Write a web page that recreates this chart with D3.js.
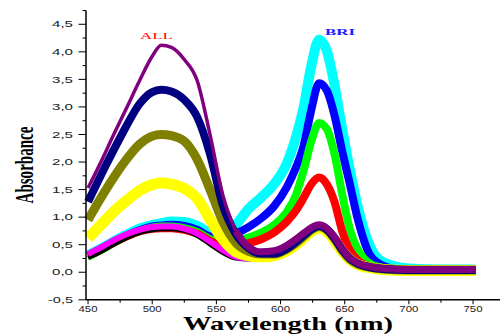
<!DOCTYPE html>
<html>
<head>
<meta charset="utf-8">
<script src="https://cdn.jsdelivr.net/npm/d3@7"></script>
<style>
  body { margin: 0; background: #fff; }
  svg { display: block; }
  .tick-label { font-family: "Liberation Sans", Arial, sans-serif; font-size: 9px; fill: #222; }
</style>
</head>
<body>
<div id="chart"></div>
<script>
// wavelength grid (nm) shared by every spectrum
const wavelength = [450, 460, 470, 480, 490, 500, 507, 515, 525, 535, 545, 555, 565, 575, 585, 595, 605, 612, 618, 624, 630, 636, 642, 648, 654, 660, 670, 680, 700, 725, 752]

// absorbance, one array per spectrum
const absCyan    = [0.31, 0.43, 0.56, 0.68, 0.79, 0.86, 0.89, 0.92, 0.91, 0.84, 0.72, 0.70, 0.86, 1.15, 1.36, 1.60, 1.98, 2.45, 3.00, 3.75, 4.22, 4.02, 3.40, 2.60, 1.85, 1.20, 0.45, 0.18, 0.07, 0.05, 0.05]
const absBlue    = [0.29, 0.41, 0.54, 0.66, 0.76, 0.83, 0.85, 0.86, 0.84, 0.77, 0.65, 0.62, 0.70, 0.82, 0.98, 1.20, 1.55, 1.90, 2.30, 2.95, 3.43, 3.30, 2.85, 2.20, 1.60, 0.98, 0.30, 0.12, 0.03, 0.02, 0.02]
const absGreen   = [0.28, 0.40, 0.53, 0.65, 0.75, 0.81, 0.83, 0.83, 0.80, 0.73, 0.60, 0.55, 0.58, 0.63, 0.72, 0.86, 1.10, 1.40, 1.85, 2.38, 2.71, 2.60, 2.15, 1.42, 0.78, 0.42, 0.15, 0.08, 0.04, 0.03, 0.03]
const absRed     = [0.30, 0.41, 0.54, 0.65, 0.74, 0.79, 0.80, 0.80, 0.77, 0.70, 0.57, 0.48, 0.48, 0.53, 0.60, 0.72, 0.92, 1.12, 1.35, 1.60, 1.72, 1.60, 1.28, 0.75, 0.40, 0.22, 0.10, 0.06, 0.04, 0.04, 0.04]
const absBlack   = [0.26, 0.37, 0.50, 0.62, 0.71, 0.76, 0.78, 0.78, 0.75, 0.66, 0.50, 0.35, 0.25, 0.23, 0.25, 0.30, 0.39, 0.50, 0.62, 0.74, 0.80, 0.74, 0.58, 0.37, 0.22, 0.13, 0.07, 0.04, 0.02, 0.02, 0.02]
const absMagenta = [0.33, 0.45, 0.58, 0.69, 0.77, 0.82, 0.83, 0.83, 0.79, 0.70, 0.56, 0.40, 0.28, 0.25, 0.27, 0.32, 0.41, 0.52, 0.64, 0.76, 0.82, 0.76, 0.60, 0.39, 0.23, 0.14, 0.08, 0.05, 0.04, 0.04, 0.04]
const absYellow  = [0.62, 0.86, 1.10, 1.30, 1.48, 1.59, 1.62, 1.60, 1.52, 1.34, 0.96, 0.60, 0.37, 0.30, 0.28, 0.30, 0.39, 0.50, 0.62, 0.74, 0.80, 0.74, 0.58, 0.38, 0.23, 0.14, 0.08, 0.05, 0.03, 0.03, 0.03]
const absOlive   = [0.95, 1.35, 1.72, 2.05, 2.32, 2.47, 2.50, 2.48, 2.38, 2.05, 1.50, 0.92, 0.54, 0.38, 0.33, 0.33, 0.42, 0.53, 0.65, 0.77, 0.83, 0.77, 0.61, 0.40, 0.24, 0.15, 0.09, 0.06, 0.04, 0.04, 0.04]
const absNavy    = [1.28, 1.76, 2.22, 2.66, 3.05, 3.27, 3.31, 3.28, 3.13, 2.82, 2.15, 1.22, 0.70, 0.44, 0.34, 0.34, 0.43, 0.55, 0.67, 0.78, 0.84, 0.78, 0.62, 0.41, 0.25, 0.16, 0.09, 0.06, 0.04, 0.04, 0.04]
const absPurple  = [1.53, 2.00, 2.50, 2.98, 3.47, 3.92, 4.12, 4.08, 3.86, 3.48, 2.50, 1.40, 0.75, 0.46, 0.37, 0.39, 0.49, 0.60, 0.71, 0.81, 0.86, 0.80, 0.64, 0.43, 0.26, 0.17, 0.10, 0.07, 0.05, 0.05, 0.05]

const xTicks = [450, 500, 550, 600, 650, 700, 750]
const yTicks = [-0.5, 0, 0.5, 1, 1.5, 2, 2.5, 3, 3.5, 4, 4.5]

const width = 500, height = 336
const margin = { top: 10.5, right: 0, bottom: 36.2, left: 86 }

const svg = d3.select('#chart').append('svg')
  .attr('width', width)
  .attr('height', height)

const x = d3.scaleLinear().domain([448.4, 771]).range([margin.left, width - margin.right])
const y = d3.scaleLinear().domain([-0.5, 4.75]).range([height - margin.bottom, margin.top])

// drawn bottom to top, like the overlap order in the picture
const spectra = [
  { values: absCyan, color: '#00ffff', w: 10 },
  { values: absBlue, color: '#0000ff', w: 8 },
  { values: absGreen, color: '#00ff00', w: 8 },
  { values: absRed, color: '#ff0000', w: 8 },
  { values: absBlack, color: '#000000', w: 4 },
  { values: absMagenta, color: '#ff00ff', w: 6 },
  { values: absYellow, color: '#ffff00', w: 11 },
  { values: absOlive, color: '#808000', w: 9 },
  { values: absNavy, color: '#000080', w: 8 },
  { values: absPurple, color: '#800080', w: 3.5, to: 13 },
  { values: absPurple, color: '#800080', w: 7, from: 12 }
]

const line = d3.line()
  .x(d => x(d[0]))
  .y(d => y(d[1]))
  .curve(d3.curveMonotoneX)

const plot = svg.append('g')
spectra.forEach(s => {
  const pts = wavelength.map((wl, i) => [wl, s.values[i]]).slice(s.from || 0, s.to || wavelength.length)
  plot.append('path')
    .attr('d', line(pts))
    .attr('fill', 'none')
    .attr('stroke', s.color)
    .attr('stroke-width', s.w)
    .attr('stroke-linejoin', 'round')
    .attr('stroke-linecap', 'butt')
})

// x axis
const xAxis = svg.append('g').attr('transform', `translate(0,${y(-0.5)})`)
xAxis.append('line')
  .attr('x1', x.range()[0]).attr('x2', x.range()[1])
  .attr('stroke', '#000').attr('stroke-width', 1.5)
xAxis.selectAll('.minor')
  .data(d3.range(475, 775, 50))
  .join('line')
  .attr('x1', d => x(d)).attr('x2', d => x(d))
  .attr('y1', 0).attr('y2', 3)
  .attr('stroke', '#000')
xAxis.selectAll('.major')
  .data(xTicks)
  .join('line')
  .attr('x1', d => x(d)).attr('x2', d => x(d))
  .attr('y1', 0).attr('y2', 4.5)
  .attr('stroke', '#000')
xAxis.selectAll('text')
  .data(xTicks)
  .join('text')
  .attr('class', 'tick-label')
  .attr('x', d => x(d))
  .attr('y', 12)
  .attr('text-anchor', 'middle')
  .attr('textLength', 19)
  .attr('lengthAdjust', 'spacingAndGlyphs')
  .text(d => d)

// y axis
const fmt = v => d3.format('.1f')(v).replace('.', ',').replace('−', '-')
const yAxis = svg.append('g').attr('transform', `translate(${x(448.4)},0)`)
yAxis.append('line')
  .attr('y1', y.range()[0]).attr('y2', y.range()[1])
  .attr('stroke', '#000').attr('stroke-width', 1.5)
yAxis.selectAll('.minor')
  .data(d3.range(-0.25, 4.8, 0.5))
  .join('line')
  .attr('y1', d => y(d)).attr('y2', d => y(d))
  .attr('x1', 0).attr('x2', -3.5)
  .attr('stroke', '#000')
yAxis.selectAll('.major')
  .data(yTicks)
  .join('line')
  .attr('y1', d => y(d)).attr('y2', d => y(d))
  .attr('x1', 0).attr('x2', -7.5)
  .attr('stroke', '#000')
yAxis.selectAll('text')
  .data(yTicks)
  .join('text')
  .attr('class', 'tick-label')
  .attr('x', -13)
  .attr('y', d => y(d))
  .attr('dy', '0.35em')
  .attr('text-anchor', 'end')
  .attr('textLength', d => d < 0 ? 25 : 21)
  .attr('lengthAdjust', 'spacingAndGlyphs')
  .text(fmt)

// axis titles
svg.append('text')
  .attr('transform', 'translate(33,165) rotate(-90)')
  .attr('text-anchor', 'middle')
  .attr('font-family', '"Liberation Serif", "Times New Roman", serif')
  .attr('font-size', 25)
  .attr('font-weight', 'bold')
  .attr('textLength', 77)
  .attr('lengthAdjust', 'spacingAndGlyphs')
  .text('Absorbance')

svg.append('text')
  .attr('x', 288)
  .attr('y', 330)
  .attr('text-anchor', 'middle')
  .attr('font-family', '"Liberation Serif", "Times New Roman", serif')
  .attr('font-size', 19)
  .attr('font-weight', 'bold')
  .attr('textLength', 210)
  .attr('lengthAdjust', 'spacingAndGlyphs')
  .text('Wavelength (nm)')

// band labels
svg.append('text')
  .attr('x', 156.5).attr('y', 39.3)
  .attr('text-anchor', 'middle')
  .attr('font-family', '"Liberation Serif", serif')
  .attr('font-size', 9)
  .attr('fill', '#ff0000')
  .attr('textLength', 33)
  .attr('lengthAdjust', 'spacingAndGlyphs')
  .text('ALL')

svg.append('text')
  .attr('x', 340).attr('y', 35)
  .attr('text-anchor', 'middle')
  .attr('font-family', '"Liberation Serif", serif')
  .attr('font-size', 9)
  .attr('font-weight', 'bold')
  .attr('fill', '#1a1aff')
  .attr('textLength', 30)
  .attr('lengthAdjust', 'spacingAndGlyphs')
  .text('BRI')
</script>
</body>
</html>
